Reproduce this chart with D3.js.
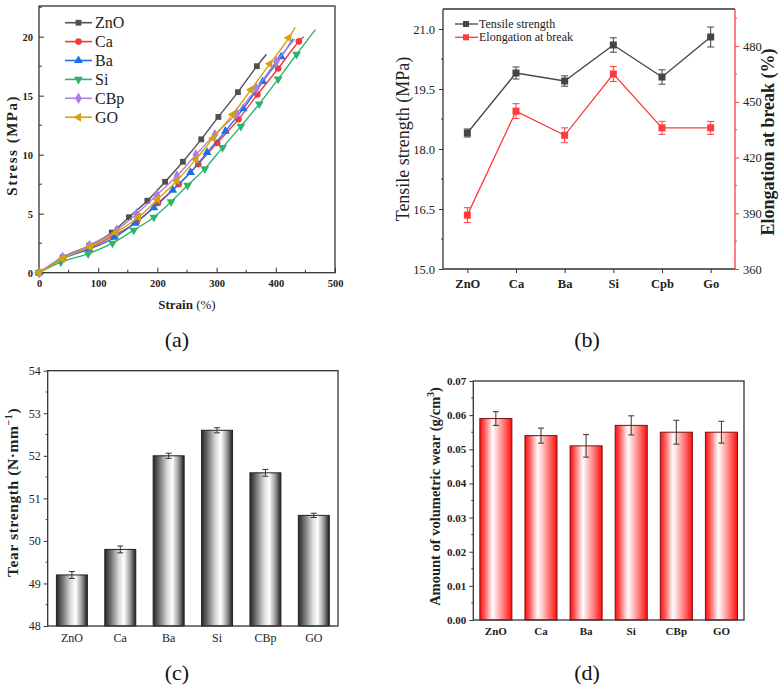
<!DOCTYPE html>
<html lang="en">
<head>
<meta charset="UTF-8">
<title>Mechanical properties of the compounds</title>
<script src="https://d3js.org/d3.v7.min.js"></script>
<style>
    body { margin: 0; background: #fff; }
    svg { display: block; font-family: "Liberation Serif", "DejaVu Serif", serif; }
    .frame { fill: none; stroke: #333; stroke-width: 1.3px; }
    .tick text { fill: #222; }
    .panel-tag { font-size: 22px; text-anchor: middle; fill: #111; }
</style>
</head>
<body>
<div id="chart"></div>
<script>
    // --- (a) stress–strain curves: [strain %, stress MPa]; last point is the curve end (no marker) ---
    const curveNames = ["ZnO", "Ca", "Ba", "Si", "CBp", "GO"];
    const curveZnO = [[0,0],[40,1.3],[85,2.3],[123,3.4],[152,4.7],[183,6.1],[213,7.7],[243,9.4],[274,11.3],[303,13.2],[336,15.3],[368,17.5],[384,18.5]];
    const curveCa  = [[0,0],[40,1.2],[85,2.1],[125,3.1],[165,4.3],[201,5.9],[236,7.5],[269,9.2],[301,11.0],[337,13.0],[369,15.1],[404,17.3],[439,19.6],[447,20.0]];
    const curveBa  = [[0,0],[40,1.2],[85,2.0],[128,3.0],[162,4.2],[194,5.5],[226,7.0],[256,8.5],[284,10.2],[315,12.0],[345,13.9],[378,16.2],[409,18.3],[429,19.8]];
    const curveSi  = [[0,0],[37,0.9],[83,1.6],[124,2.5],[160,3.6],[194,4.7],[223,6.0],[251,7.4],[280,8.8],[310,10.6],[341,12.4],[372,14.3],[404,16.4],[435,18.5],[467,20.6]];
    const curveCBp = [[0,0],[40,1.3],[85,2.3],[131,3.6],[165,5.0],[199,6.6],[233,8.2],[265,10.0],[297,11.7],[334,13.5],[367,15.6],[401,17.9],[432,19.8]];
    const curveGO  = [[0,0],[40,1.2],[87,2.2],[130,3.4],[168,4.7],[200,6.2],[233,7.8],[265,9.6],[294,11.4],[327,13.4],[358,15.5],[390,17.7],[422,19.9],[433,20.8]];
    const curveColors = ["#505050", "#f03a3a", "#1d6ee8", "#2fb36a", "#b07ce6", "#d6a20c"];
    const xTicksA = [0, 100, 200, 300, 400, 500];
    const yTicksA = [0, 5, 10, 15, 20];

    // --- (b) tensile strength and elongation at break ---
    const catsB = ["ZnO", "Ca", "Ba", "Si", "Cpb", "Go"];
    const tensile = [18.4, 19.9, 19.7, 20.6, 19.8, 20.8];
    const tensileErr = [0.1, 0.15, 0.13, 0.18, 0.18, 0.25];
    const elongation = [389, 445, 432, 465, 436, 436];
    const elongationErr = [4, 4, 4, 4, 3.5, 3.5];
    const yTicksBLeft = [15.0, 16.5, 18.0, 19.5, 21.0];
    const yTicksBRight = [360, 390, 420, 450, 480];

    // --- (c) tear strength ---
    const catsC = ["ZnO", "Ca", "Ba", "Si", "CBp", "GO"];
    const tear = [49.2, 49.8, 52.0, 52.6, 51.6, 50.6];
    const tearErr = [0.08, 0.08, 0.06, 0.06, 0.08, 0.05];
    const yTicksC = [48, 49, 50, 51, 52, 53, 54];

    // --- (d) volumetric wear ---
    const catsD = ["ZnO", "Ca", "Ba", "Si", "CBp", "GO"];
    const wear = [0.059, 0.054, 0.051, 0.057, 0.055, 0.055];
    const wearErr = [0.002, 0.0022, 0.0033, 0.0028, 0.0035, 0.0032];
    const yTicksD = [0.00, 0.01, 0.02, 0.03, 0.04, 0.05, 0.06, 0.07];

    const W = 783, H = 689;
    const svg = d3.select("#chart").append("svg").attr("width", W).attr("height", H);
    const defs = svg.append("defs");

    // cylinder-like fills
    const gGray = defs.append("linearGradient").attr("id", "gradGray").attr("x1", 0).attr("x2", 1).attr("y1", 0).attr("y2", 0);
    [[0, "#262626"], [0.18, "#6a6a6a"], [0.45, "#d8d8d8"], [0.62, "#ffffff"], [0.82, "#9a9a9a"], [1, "#1c1c1c"]]
        .forEach(s => gGray.append("stop").attr("offset", s[0]).attr("stop-color", s[1]));
    const gRed = defs.append("linearGradient").attr("id", "gradRed").attr("x1", 0).attr("x2", 1).attr("y1", 0).attr("y2", 0);
    [[0, "#ff1010"], [0.12, "#ff4a4a"], [0.4, "#ffffff"], [0.7, "#ff8a8a"], [1, "#ff0d0d"]]
        .forEach(s => gRed.append("stop").attr("offset", s[0]).attr("stop-color", s[1]));

    const SERIF = '"Liberation Serif", "DejaVu Serif", serif';
    function styleAxis(g, size, weight, color) {
        g.attr("font-family", SERIF);
        g.select(".domain").remove();
        g.selectAll(".tick line").attr("stroke", color || "#333").attr("stroke-width", 1);
        g.selectAll(".tick text").attr("font-size", size).attr("font-weight", weight || "normal").attr("fill", color || "#222");
    }
    function minorTicks(g, scale, values, orient, len, color) {
        values.forEach(v => {
            if (orient === "left") g.append("line").attr("x1", 0).attr("x2", -len).attr("y1", scale(v)).attr("y2", scale(v));
            else if (orient === "right") g.append("line").attr("x1", 0).attr("x2", len).attr("y1", scale(v)).attr("y2", scale(v));
            else if (orient === "bottom") g.append("line").attr("y1", 0).attr("y2", len).attr("x1", scale(v)).attr("x2", scale(v));
        });
        g.selectAll("line").attr("stroke", color || "#333").attr("stroke-width", 1);
    }
    function rangeStep(a, b, s) { return d3.range(a, b + s / 2, s); }

    // ================= (a) =================
    {
        const L = 39, R = 335, T = 6, B = 272.7;
        const x = d3.scaleLinear().domain([0, 500]).range([L, R]);
        const y = d3.scaleLinear().domain([0, 22.6]).range([B, T]);
        const g = svg.append("g");

        const xa = g.append("g").attr("transform", `translate(0,${B})`)
            .call(d3.axisBottom(x).tickValues(xTicksA).tickSizeInner(-5).tickSizeOuter(0).tickPadding(7));
        styleAxis(xa, 10.5, "bold");
        const xm = g.append("g").attr("transform", `translate(0,${B})`);
        minorTicks(xm, x, [50, 150, 250, 350, 450], "bottom", -3);
        const ya = g.append("g").attr("transform", `translate(${L},0)`)
            .call(d3.axisLeft(y).tickValues(yTicksA).tickSizeInner(-5).tickSizeOuter(0).tickPadding(6));
        styleAxis(ya, 10.5, "bold");
        const ym = g.append("g").attr("transform", `translate(${L},0)`);
        minorTicks(ym, y, [2.5, 7.5, 12.5, 17.5, 22.5], "left", -3);

        g.append("rect").attr("class", "frame").attr("x", L).attr("y", T).attr("width", R - L).attr("height", B - T);

        const allCurves = [curveZnO, curveCa, curveBa, curveSi, curveCBp, curveGO];
        const symbols = [
            { t: d3.symbolSquare, r: 0, s: 34 }, { t: d3.symbolCircle, r: 0, s: 34 },
            { t: d3.symbolTriangle, r: 0, s: 34 }, { t: d3.symbolTriangle, r: 180, s: 34 },
            { t: d3.symbolDiamond, r: 0, s: 38 }, { t: d3.symbolTriangle, r: -90, s: 34 }
        ];
        const line = d3.line().x(d => x(d[0])).y(d => y(d[1])).curve(d3.curveMonotoneX);
        allCurves.forEach((c, i) => {
            g.append("path").datum(c).attr("d", line).attr("fill", "none")
                .attr("stroke", curveColors[i]).attr("stroke-width", 1.4);
            g.selectAll(null).data(c.slice(0, -1)).join("path")
                .attr("d", d3.symbol().type(symbols[i].t).size(symbols[i].s))
                .attr("transform", d => `translate(${x(d[0])},${y(d[1])}) rotate(${symbols[i].r})`)
                .attr("fill", curveColors[i]);
        });

        // legend
        curveNames.forEach((n, i) => {
            const ly = 22.7 + i * 18.9;
            g.append("line").attr("x1", 65).attr("x2", 92).attr("y1", ly).attr("y2", ly)
                .attr("stroke", curveColors[i]).attr("stroke-width", 1.6);
            g.append("path").attr("d", d3.symbol().type(symbols[i].t).size(symbols[i].s))
                .attr("transform", `translate(78.5,${ly}) rotate(${symbols[i].r})`).attr("fill", curveColors[i]);
            g.append("text").attr("x", 95).attr("y", ly + 5.5).attr("font-size", 16).attr("fill", "#222").text(n);
        });

        g.append("text").attr("transform", `translate(17,${(T + B) / 2 + 6}) rotate(-90)`)
            .attr("text-anchor", "middle").attr("font-size", 15).attr("font-weight", "bold")
            .attr("letter-spacing", 1.5).attr("fill", "#222").text("Stress (MPa)");
        const xt = g.append("text").attr("x", (L + R) / 2).attr("y", 309).attr("text-anchor", "middle")
            .attr("font-size", 13).attr("fill", "#222");
        xt.append("tspan").attr("font-weight", "bold").text("Strain ");
        xt.append("tspan").text("(%)");
    }

    // ================= (b) =================
    {
        const L = 443, R = 735, T = 9, B = 269;
        const x = d3.scalePoint().domain(catsB).range([L, R]).padding(0.5);
        const yL = d3.scaleLinear().domain([15, 21.5]).range([B, T]);
        const yR = d3.scaleLinear().domain([360, 500]).range([B, T]);
        const black = "#333", red = "#ff3b3b";
        const g = svg.append("g");

        const xa = g.append("g").attr("transform", `translate(0,${B})`)
            .call(d3.axisBottom(x).tickSizeInner(4).tickSizeOuter(0).tickPadding(6));
        styleAxis(xa, 12.5, "bold");
        const ya = g.append("g").attr("transform", `translate(${L},0)`)
            .call(d3.axisLeft(yL).tickValues(yTicksBLeft).tickFormat(d3.format(".1f")).tickSizeInner(4).tickSizeOuter(0).tickPadding(4));
        styleAxis(ya, 12.5);
        const yam = g.append("g").attr("transform", `translate(${L},0)`);
        minorTicks(yam, yL, [15.75, 17.25, 18.75, 20.25], "left", 2);
        const yb = g.append("g").attr("transform", `translate(${R},0)`)
            .call(d3.axisRight(yR).tickValues(yTicksBRight).tickSizeInner(4).tickSizeOuter(0).tickPadding(4));
        styleAxis(yb, 12.5, "normal", red);
        const ybm = g.append("g").attr("transform", `translate(${R},0)`);
        minorTicks(ybm, yR, [375, 405, 435, 465, 495], "right", 2, red);

        g.append("line").attr("x1", L).attr("x2", L).attr("y1", T).attr("y2", B).attr("stroke", black).attr("stroke-width", 1.3);
        g.append("line").attr("x1", L).attr("x2", R).attr("y1", B).attr("y2", B).attr("stroke", black).attr("stroke-width", 1.3);
        g.append("line").attr("x1", L).attr("x2", R).attr("y1", T).attr("y2", T).attr("stroke", black).attr("stroke-width", 1.3);
        g.append("line").attr("x1", R).attr("x2", R).attr("y1", T).attr("y2", B).attr("stroke", red).attr("stroke-width", 1.3);

        function series(vals, errs, ys, color) {
            const pts = catsB.map((c, i) => ({ c, v: vals[i], e: errs[i] }));
            g.append("path").datum(pts)
                .attr("d", d3.line().x(d => x(d.c)).y(d => ys(d.v)))
                .attr("fill", "none").attr("stroke", color).attr("stroke-width", 1.3);
            const eb = g.selectAll(null).data(pts).join("g").attr("stroke", color).attr("stroke-width", 1);
            eb.append("line").attr("x1", d => x(d.c)).attr("x2", d => x(d.c)).attr("y1", d => ys(d.v - d.e)).attr("y2", d => ys(d.v + d.e));
            eb.append("line").attr("x1", d => x(d.c) - 3.5).attr("x2", d => x(d.c) + 3.5).attr("y1", d => ys(d.v - d.e)).attr("y2", d => ys(d.v - d.e));
            eb.append("line").attr("x1", d => x(d.c) - 3.5).attr("x2", d => x(d.c) + 3.5).attr("y1", d => ys(d.v + d.e)).attr("y2", d => ys(d.v + d.e));
            g.selectAll(null).data(pts).join("rect")
                .attr("x", d => x(d.c) - 3.5).attr("y", d => ys(d.v) - 3.5).attr("width", 7).attr("height", 7).attr("fill", color);
        }
        series(tensile, tensileErr, yL, "#444");
        series(elongation, elongationErr, yR, red);

        [["Tensile strength", "#444"], ["Elongation at break", red]].forEach((d, i) => {
            const ly = 24 + i * 13.3;
            g.append("line").attr("x1", 455).attr("x2", 478).attr("y1", ly).attr("y2", ly).attr("stroke", d[1]).attr("stroke-width", 1.3);
            g.append("rect").attr("x", 463).attr("y", ly - 3).attr("width", 6).attr("height", 6).attr("fill", d[1]);
            g.append("text").attr("x", 479).attr("y", ly + 4).attr("font-size", 12).attr("fill", "#222").text(d[0]);
        });

        g.append("text").attr("transform", `translate(409,${(T + B) / 2}) rotate(-90)`)
            .attr("text-anchor", "middle").attr("font-size", 18).attr("fill", "#222").text("Tensile strength (MPa)");
        g.append("text").attr("transform", `translate(774,${(T + B) / 2 + 3}) rotate(-90)`)
            .attr("text-anchor", "middle").attr("font-size", 18).attr("font-weight", "bold").attr("fill", "#222").text("Elongation at break (%)");
    }

    // ================= bar panels (c) and (d) =================
    function barPanel(o) {
        const x = d3.scaleBand().domain(o.cats).range([o.L, o.R]).paddingInner(o.pad).paddingOuter(o.pad / 2);
        const y = d3.scaleLinear().domain(o.domain).range([o.B, o.T]);
        const g = svg.append("g");
        const xa = g.append("g").attr("transform", `translate(0,${o.B})`)
            .call(d3.axisBottom(x).tickSizeInner(-3).tickSizeOuter(0).tickPadding(7));
        styleAxis(xa, o.xFont, o.xWeight);
        const ya = g.append("g").attr("transform", `translate(${o.L},0)`)
            .call(d3.axisLeft(y).tickValues(o.ticks).tickFormat(o.fmt).tickSizeInner(4).tickSizeOuter(0).tickPadding(3));
        styleAxis(ya, o.yFont, o.yWeight);
        const ym = g.append("g").attr("transform", `translate(${o.L},0)`);
        minorTicks(ym, y, o.minor, "left", 2);

        g.selectAll(null).data(o.vals).join("rect")
            .attr("x", (d, i) => x(o.cats[i])).attr("width", x.bandwidth())
            .attr("y", d => y(d)).attr("height", d => o.B - y(d))
            .attr("fill", `url(#${o.grad})`).attr("stroke", o.stroke).attr("stroke-width", 1);
        const eb = g.selectAll(null).data(o.vals).join("g").attr("stroke", "#333").attr("stroke-width", 1);
        const cx = (i) => x(o.cats[i]) + x.bandwidth() / 2;
        eb.append("line").attr("x1", (d, i) => cx(i)).attr("x2", (d, i) => cx(i))
            .attr("y1", (d, i) => y(d - o.errs[i])).attr("y2", (d, i) => y(d + o.errs[i]));
        eb.append("line").attr("x1", (d, i) => cx(i) - 3).attr("x2", (d, i) => cx(i) + 3)
            .attr("y1", (d, i) => y(d - o.errs[i])).attr("y2", (d, i) => y(d - o.errs[i]));
        eb.append("line").attr("x1", (d, i) => cx(i) - 3).attr("x2", (d, i) => cx(i) + 3)
            .attr("y1", (d, i) => y(d + o.errs[i])).attr("y2", (d, i) => y(d + o.errs[i]));

        g.append("rect").attr("class", "frame").attr("x", o.L).attr("y", o.T).attr("width", o.R - o.L).attr("height", o.B - o.T);
        return g;
    }

    {
        const g = barPanel({ cats: catsC, vals: tear, errs: tearErr, L: 47.7, R: 338, T: 370.7, B: 626, domain: [48, 54],
            ticks: yTicksC, fmt: d3.format("d"), minor: rangeStep(48.5, 53.5, 1), pad: 0.36, grad: "gradGray", stroke: "#222",
            xFont: 12, xWeight: "normal", yFont: 12, yWeight: "normal" });
        const t = g.append("text").attr("transform", `translate(18,${(370.7 + 626) / 2 - 6}) rotate(-90)`)
            .attr("text-anchor", "middle").attr("font-size", 15.5).attr("font-weight", "bold").attr("letter-spacing", 0.6).attr("fill", "#222");
        t.append("tspan").text("Tear strength (N·mm");
        t.append("tspan").attr("dy", -6).attr("font-size", 10).text("−1");
        t.append("tspan").attr("dy", 6).text(")");
    }
    {
        const g = barPanel({ cats: catsD, vals: wear, errs: wearErr, L: 473.3, R: 744, T: 381, B: 620, domain: [0, 0.07],
            ticks: yTicksD, fmt: d3.format(".2f"), minor: rangeStep(0.005, 0.065, 0.01), pad: 0.29, grad: "gradRed", stroke: "#7a1010",
            xFont: 11, xWeight: "bold", yFont: 11, yWeight: "bold" });
        const t = g.append("text").attr("transform", `translate(440,${(381 + 620) / 2 - 4}) rotate(-90)`)
            .attr("text-anchor", "middle").attr("font-size", 14.5).attr("font-weight", "bold").attr("fill", "#222");
        t.append("tspan").text("Amount of volumetric wear (g/cm");
        t.append("tspan").attr("dy", -6).attr("font-size", 9.5).text("3");
        t.append("tspan").attr("dy", 6).text(")");
    }

    // panel tags
    [["(a)", 177, 347], ["(b)", 587, 347], ["(c)", 177, 680], ["(d)", 587, 680]].forEach(d => {
        svg.append("text").attr("class", "panel-tag").attr("x", d[1]).attr("y", d[2]).text(d[0]);
    });
</script>
</body>
</html>
